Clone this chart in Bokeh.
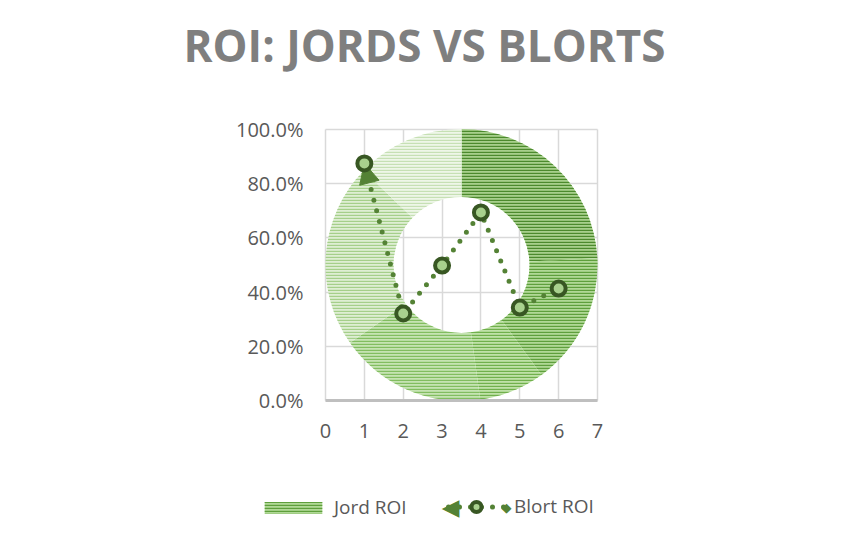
import numpy as np
from bokeh.plotting import figure
from bokeh.models import (ColumnDataSource, Range1d, NumeralTickFormatter, FixedTicker,
                          Legend, LegendItem, Label, Arrow, NormalHead)
from bokeh.embed import file_html
from bokeh.resources import INLINE

# ---------------- data ----------------
title_text = "ROI: JORDS VS BLORTS"
jord_labels = ["Jord 1", "Jord 2", "Jord 3", "Jord 4", "Jord 5", "Jord 6"]
jord_roi = [24.2, 15.8, 7.8, 17.5, 21.9, 12.8]          # doughnut shares (%)
blort_x = [1, 2, 3, 4, 5, 6]
blort_roi = [0.875, 0.321, 0.498, 0.694, 0.343, 0.413]
x_ticks = [0, 1, 2, 3, 4, 5, 6, 7]
y_ticks = [0.0, 0.2, 0.4, 0.6, 0.8, 1.0]

# ---------------- styles / layout ----------------
jord_fill = ["#a7cf8c", "#b0d896", "#bfe1a8", "#c6e3b3", "#deeed3", "#eef6e8"]
jord_hatch = ["#4c8a2d", "#5e9f3c", "#70b04c", "#82bd60", "#a5cf8a", "#c6e0b4"]
DOT = "#548235"
RING = "#385723"
MFILL = "#a9d18e"
TXT = "#595959"
FONT = "Open Sans"

W, H = 834, 525
# pixel box of the plotting area inside the canvas
PL, PR, PT, PB = 325, 597, 129, 400
x0, x1 = x_ticks[0], x_ticks[-1]
y0, y1 = y_ticks[0], y_ticks[-1]
kx = (x1 - x0) / (PR - PL)
ky = (y1 - y0) / (PB - PT)
xr = Range1d(x0 - PL * kx, x1 + (W - PR) * kx)
yr = Range1d(y0 - (H - PB) * ky, y1 + PT * ky)

p = figure(width=W, height=H, output_backend="svg", toolbar_location=None,
           x_range=xr, y_range=yr, min_border=0)
p.outline_line_color = None
p.background_fill_color = "white"
p.border_fill_color = "white"
p.title.visible = False

# axes (fixed at the data origin)
p.xaxis.ticker = FixedTicker(ticks=x_ticks)
p.yaxis.ticker = FixedTicker(ticks=y_ticks)
p.xaxis.fixed_location = y0
p.yaxis.fixed_location = x0
p.xaxis.bounds = (x0, x1)
p.yaxis.bounds = (y0, y1)
p.xgrid.ticker = FixedTicker(ticks=x_ticks)
p.ygrid.ticker = FixedTicker(ticks=y_ticks)
p.xgrid.cross_bounds = (y0, y1)
p.ygrid.cross_bounds = (x0, x1)
p.yaxis.formatter = NumeralTickFormatter(format="0.0%")
for ax in (p.xaxis[0], p.yaxis[0]):
    ax.major_tick_line_color = None
    ax.minor_tick_line_color = None
    ax.major_tick_out = 0
    ax.major_tick_in = 0
    ax.major_label_text_font = FONT
    ax.major_label_text_font_size = "20px"
    ax.major_label_text_color = TXT
p.yaxis.axis_line_color = None
p.xaxis.axis_line_color = "#bfbfbf"
p.xaxis.axis_line_width = 3
p.xaxis.major_label_standoff = 23
p.yaxis.major_label_standoff = 22
p.xgrid.grid_line_color = "#d9d9d9"
p.ygrid.grid_line_color = "#d9d9d9"
p.xgrid.grid_line_width = 1.5
p.ygrid.grid_line_width = 1.5

# doughnut (Jord ROI)
frac = np.array(jord_roi) / np.sum(jord_roi)
cum = np.concatenate([[0.0], np.cumsum(frac)])
cx = (x0 + x1) / 2
cy = (y0 + y1) / 2
wsrc = ColumnDataSource(dict(
    x=[cx] * len(jord_roi), y=[cy] * len(jord_roi),
    start=np.pi / 2 - 2 * np.pi * cum[:-1],
    end=np.pi / 2 - 2 * np.pi * cum[1:],
    fill=jord_fill, hatch=jord_hatch, label=jord_labels))
wedges = p.annular_wedge(x="x", y="y", inner_radius=68, outer_radius=136,
                         inner_radius_units="screen", outer_radius_units="screen",
                         start_angle="start", end_angle="end", direction="clock",
                         fill_color="fill", hatch_color="hatch", hatch_pattern="horizontal_line",
                         hatch_scale=3, hatch_weight=1.4, line_color=None, source=wsrc)

# Blort ROI line
bsrc = ColumnDataSource(dict(x=blort_x, y=blort_roi))
line = p.line("x", "y", source=bsrc, line_color=DOT, line_width=5,
              line_dash="0 11", line_dash_offset=6, line_cap="round")
arrow = Arrow(end=NormalHead(size=20, fill_color=DOT, line_color=DOT, line_width=1),
              x_start=blort_x[1], y_start=blort_roi[1], x_end=blort_x[0], y_end=blort_roi[0],
              line_alpha=0, line_width=0, level="glyph")
p.renderers.append(arrow)
marks = p.scatter("x", "y", source=bsrc, marker="circle", size=14,
                  fill_color=MFILL, line_color=RING, line_width=4)

# title
p.add_layout(Label(x=424, y=H - 44, x_units="screen", y_units="screen", text=title_text,
                   text_align="center", text_baseline="alphabetic", text_font=FONT,
                   text_font_style="bold", text_font_size="44px", text_color="#7f7f7f"))

# legend
common = dict(orientation="horizontal", padding=0, margin=0, border_line_color=None,
              background_fill_alpha=0, label_text_font=FONT, label_text_font_size="19px",
              label_text_color=TXT, label_standoff=5)
legJ = Legend(items=[LegendItem(label="Jord ROI", renderers=[wedges], index=1)],
              location=(257, 5), glyph_width=72, glyph_height=15, label_height=15, **common)
legB = Legend(items=[LegendItem(label="Blort ROI", renderers=[line, marks])],
              location=(443, 6), glyph_width=66, glyph_height=25, label_height=25, **common)
p.add_layout(legJ)
p.add_layout(legB)
p.add_layout(Label(x=450, y=H - 506, x_units="screen", y_units="screen", text="\u25c0",
                   text_align="center", text_baseline="middle", text_font="DejaVu Sans",
                   text_font_size="23px", text_color=DOT))
p.add_layout(Label(x=506, y=H - 507, x_units="screen", y_units="screen", text="\u25c6",
                   text_align="center", text_baseline="middle", text_font="DejaVu Sans",
                   text_font_size="13px", text_color=DOT))

open("out.html", "w").write(file_html(p, INLINE))
